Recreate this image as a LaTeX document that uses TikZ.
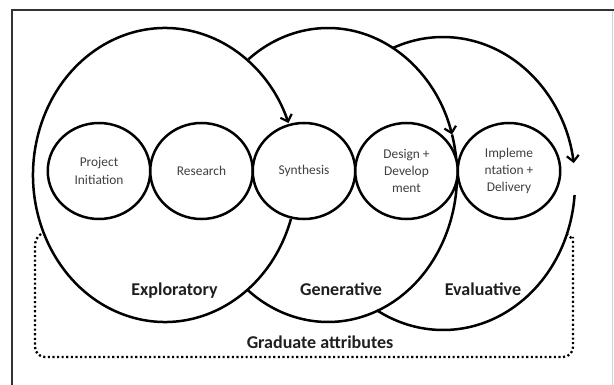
\documentclass[tikz,border=0pt]{standalone}
\usepackage{fontspec}
\setmainfont{Carlito}
\usetikzlibrary{shapes.geometric,arrows.meta}
\begin{document}
\begin{tikzpicture}[x=1pt,y=1pt,
  ring/.style={line width=2.5pt, black},
  barb/.style={-{Straight Barb[length=6pt,width=12pt,line width=2.2pt]}},
  stage/.style={ellipse, draw, line width=2.5pt, fill=white, minimum width=102.5pt,
    minimum height=96pt, inner sep=0pt, align=center, text=black!75,
    font=\fontsize{13.4}{17.2}\selectfont},
  phase/.style={anchor=base, text=black!88, font=\fontsize{18}{20}\selectfont\bfseries},
  dotbox/.style={line width=2.3pt, dash pattern=on 2.1pt off 2.5pt, black},
  frame/.style={line width=2pt, black!80}]
\useasboundingbox (0,0) rectangle (614,-385);
\fill[white] (0,0) rectangle (614,-385);
% frame
\draw[frame] (12,-385) -- (12,-10.5) -- (614,-10.5);
\draw[line width=0.8pt, black!18] (612.8,-11) -- (612.8,-385);
% ellipse centres
\coordinate (ce) at (165,-175);
\coordinate (cg) at (328,-175);
\coordinate (cv) at (443,-183.5);
% Exploratory
\draw[ring, barb] (ce) ++(-17.4:132 and 147)
  arc[start angle=-17.4, end angle=-339.3, x radius=132, y radius=147];
% Generative
\draw[ring, barb] (cg) ++(128:129 and 147)
  arc[start angle=128, end angle=16, x radius=129, y radius=147];
\draw[ring] (cg) ++(16:129 and 147)
  arc[start angle=16, end angle=-128.5, x radius=129, y radius=147];
% Evaluative
\draw[ring, barb] (cv) ++(112.3:132 and 146.5)
  arc[start angle=112.3, end angle=8, x radius=132, y radius=146.5];
\draw[ring] (cv) ++(-4.5:132 and 146.5)
  arc[start angle=-4.5, end angle=-120, x radius=132, y radius=146.5];
% stages
\node[stage] (pi) at (99,-171) {Project\\Initiation};
\node[stage] (re) at (201.5,-171) {Research};
\node[stage] (sy) at (304,-171) {Synthesis};
\node[stage] (dd) at (406.5,-171) {Design +\\Develop\\ment};
\node[stage] (id) at (509,-171) {Impleme\\ntation +\\Delivery};
% phase labels
\node[phase] (exp) at (174.5,-296) {Exploratory};
\node[phase] (gen) at (341,-296) {Generative};
\node[phase] (eva) at (483,-296) {Evaluative};
\node[phase] (grad) at (320,-348.3) {Graduate attributes};
% dotted bracket
\draw[dotbox] (41,-234) .. controls (36.5,-237) and (35,-241) .. (35,-247)
  [rounded corners=10pt] -- (35,-357) -- (573,-357) -- (573,-247)
  [sharp corners] .. controls (573,-241) and (571.5,-237.5) .. (567.5,-234.5);
\end{tikzpicture}
\end{document}
